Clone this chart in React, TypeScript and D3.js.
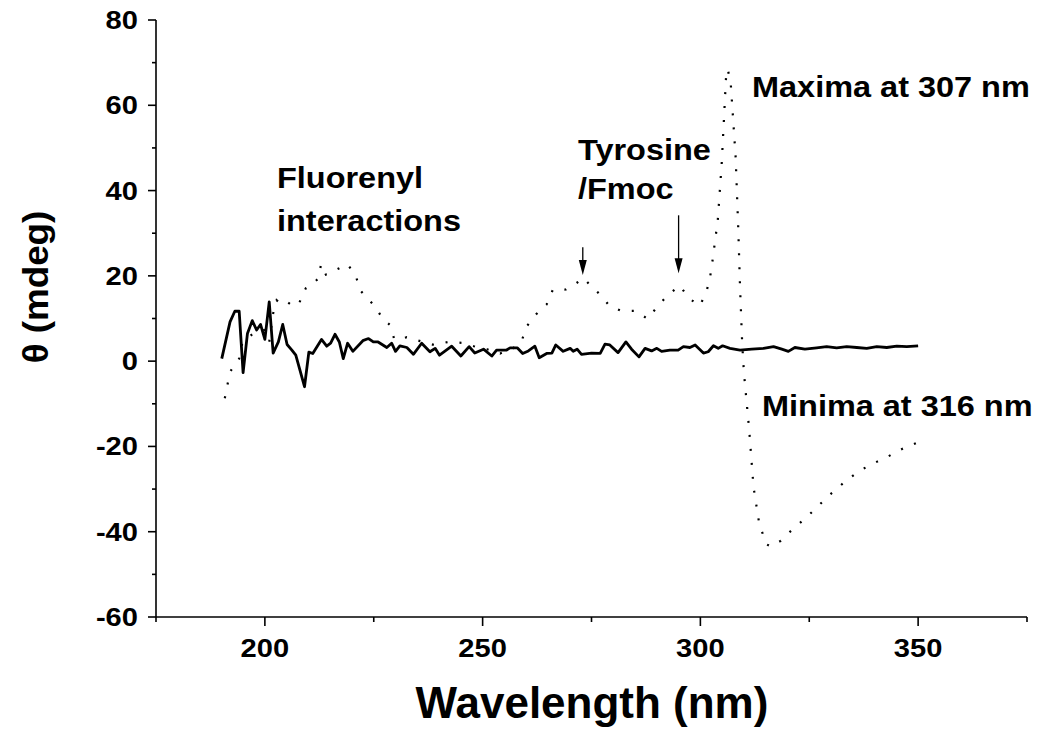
import React from "react";
import * as d3 from "d3";

// Solid trace: wavelength (nm) and theta (mdeg)
const solidWl = [190.1,192.0,193.1,194.1,195.0,196.0,197.1,198.1,199.0,200.0,201.0,201.9,203.1,204.1,205.1,206.2,207.1,209.1,210.1,211.0,213.0,214.2,215.1,216.1,217.1,218.0,219.0,220.2,222.5,223.8,224.9,226.0,228.0,229.1,230.0,231.0,232.6,234.1,236.0,237.9,239.1,240.1,242.9,245.0,246.9,248.2,250.2,252.1,253.2,255.5,256.3,258.0,259.2,260.5,262.0,263.0,264.7,265.9,266.8,268.5,270.1,270.8,271.7,272.7,275.0,277.0,278.1,279.2,281.1,282.9,284.2,285.9,287.3,288.8,290.0,291.1,293.0,294.9,296.1,297.6,298.8,300.7,301.8,303.0,304.1,305.1,306.8,309.1,311.8,314.5,316.8,318.7,320.2,321.7,324.0,326.7,329.0,331.3,333.6,335.9,338.2,340.5,342.8,345.1,347.4,350.0];
const solidTheta = [0.6,9.2,11.7,11.7,-2.7,6.5,9.5,7.3,8.6,5.1,13.9,1.9,4.5,8.6,3.9,2.6,1.4,-6.0,2.1,1.8,5.1,3.5,4.2,6.3,4.5,0.6,4.2,2.3,4.8,5.3,4.5,4.5,3.2,4.2,2.3,3.6,3.2,1.6,4.2,2.2,3.0,1.4,3.5,1.2,3.4,1.9,2.8,1.2,2.6,2.6,3.1,3.1,1.8,2.4,3.5,0.8,1.8,1.9,3.8,2.3,3.0,2.3,2.8,1.6,1.9,1.8,4.0,3.8,2.0,4.5,2.8,1.0,3.0,2.4,3.0,2.3,2.6,2.6,3.4,3.2,3.8,1.9,2.2,3.6,3.0,3.6,3.0,2.6,2.8,3.0,3.4,2.8,2.3,3.2,2.8,3.1,3.4,3.1,3.4,3.2,3.0,3.4,3.2,3.5,3.4,3.6];

// Dotted trace
const dotWl = [190.8,191.4,192.0,194.1,194.8,197.3,199.8,201.0,201.9,202.7,203.7,205.1,206.3,207.8,208.5,209.4,210.6,212.3,212.9,214.0,215.9,219.0,220.9,221.8,223.6,225.4,227.0,228.7,229.7,230.8,232.6,236.0,238.8,242.1,245.2,248.0,251.0,254.0,257.0,259.0,260.0,262.3,264.7,266.1,269.1,271.4,273.2,274.7,277.0,279.1,281.8,285.1,287.9,290.2,292.5,295.3,297.4,299.9,301.4,302.2,302.7,304.0,304.9,305.4,305.9,306.3,307.0,308.1,308.7,309.1,309.6,310.0,311.2,312.2,313.5,315.1,316.2,318.5,321.2,324.3,327.2,330.2,333.4,336.4,339.7,343.2,346.5,349.8];
const dotTheta = [-8.7,-5.6,-2.5,0.6,4.2,6.5,7.3,4.5,11.2,14.3,13.4,13.9,13.0,13.3,15.3,17.1,17.8,19.4,22.7,20.3,21.2,22.7,20.0,16.7,14.7,12.7,10.0,8.5,5.2,5.1,5.6,4.6,3.8,4.5,4.3,3.5,2.8,1.8,3.0,4.8,8.0,11.0,13.3,16.7,16.8,18.2,19.5,17.8,15.6,13.0,11.8,11.8,9.9,12.9,15.5,17.7,14.7,13.0,16.3,19.5,22.9,33.1,46.4,56.5,66.7,68.5,64.7,47.8,31.1,17.6,4.2,-2.7,-16.0,-29.5,-38.0,-42.9,-43.5,-42.1,-39.4,-36.7,-33.8,-30.9,-28.1,-25.8,-24.0,-22.3,-20.5,-19.1];

const xTicks = [200, 250, 300, 350];
const xMinor = [175, 225, 275, 325, 375];
const yTicks = [-60, -40, -20, 0, 20, 40, 60, 80];
const yMinor = [-50, -30, -10, 10, 30, 50, 70];

// Arrows: [wavelength, from theta, to theta]
const arrows = [
  [273, 26.7, 20.2],
  [295, 34.2, 20.6],
];

const W = 1042;
const H = 734;
const FONT = "'Liberation Sans', Arial, Helvetica, sans-serif";
const SX = 1.12;

function T({ x, y, size, anchor = "start", children }: any) {
  return (
    <g transform={`translate(${x},${y}) scale(${SX},1)`}>
      <text x={0} y={0} fontSize={size} textAnchor={anchor}>
        {children}
      </text>
    </g>
  );
}

export default function App() {
  const x = d3.scaleLinear().domain([175, 375]).range([156, 1027]);
  const y = d3.scaleLinear().domain([-60, 80]).range([617, 20]);

  const solid = d3
    .line<number>()
    .x((_, i) => x(solidWl[i]))
    .y((d) => y(d))(solidTheta);
  const dotted = d3
    .line<number>()
    .x((_, i) => x(dotWl[i]))
    .y((d) => y(d))(dotTheta);

  const x0 = x(175);
  const y0 = y(-60);

  return (
    <svg
      width={W}
      height={H}
      style={{ position: "absolute", left: 0, top: 0, background: "#fff" }}
      fontFamily={FONT}
      fontWeight="bold"
    >
      <rect width={W} height={H} fill="#fff" />
      {/* axes */}
      <line x1={x0} x2={x0} y1={y(80)} y2={y0} stroke="#000" strokeWidth={1.6} />
      <line x1={x0} x2={x(375)} y1={y0} y2={y0} stroke="#000" strokeWidth={1.6} />
      {yTicks.map((t) => (
        <g key={"yt" + t}>
          <line x1={x0 - 8} x2={x0} y1={y(t)} y2={y(t)} stroke="#000" strokeWidth={1.6} />
          <T x={x0 - 18} y={y(t) + 9} size={26} anchor="end">
            {t}
          </T>
        </g>
      ))}
      {yMinor.map((t) => (
        <line key={"ym" + t} x1={x0 - 4} x2={x0} y1={y(t)} y2={y(t)} stroke="#000" strokeWidth={1.6} />
      ))}
      {xTicks.map((t) => (
        <g key={"xt" + t}>
          <line x1={x(t)} x2={x(t)} y1={y0} y2={y0 + 9} stroke="#000" strokeWidth={1.6} />
          <T x={x(t)} y={y0 + 40} size={26} anchor="middle">
            {t}
          </T>
        </g>
      ))}
      {xMinor.map((t) => (
        <line key={"xm" + t} x1={x(t)} x2={x(t)} y1={y0} y2={y0 + 5} stroke="#000" strokeWidth={1.6} />
      ))}

      {/* axis titles */}
      <text x={592} y={718} textAnchor="middle" fontSize={44}>
        Wavelength (nm)
      </text>
      <g transform={`translate(48, 287) rotate(-90) scale(1.05,1)`}>
        <text x={0} y={0} textAnchor="middle" fontSize={35}>
          θ (mdeg)
        </text>
      </g>

      {/* data */}
      <path d={dotted ?? ""} fill="none" stroke="#000" strokeWidth={2.2} strokeDasharray="2 12" />
      <path d={solid ?? ""} fill="none" stroke="#000" strokeWidth={2.8} strokeLinejoin="round" />

      {/* arrows */}
      {arrows.map(([wl, a, b], i) => (
        <g key={"ar" + i}>
          <line x1={x(wl)} x2={x(wl)} y1={y(a)} y2={y(b) - 12} stroke="#000" strokeWidth={1.3} />
          <path
            d={`M${x(wl) - 4},${y(b) - 15} L${x(wl) + 4},${y(b) - 15} L${x(wl)},${y(b)} Z`}
            fill="#000"
          />
        </g>
      ))}

      {/* annotations */}
      <T x={277} y={188} size={29}>Fluorenyl</T>
      <T x={277} y={231} size={29}>interactions</T>
      <T x={578} y={160} size={29}>Tyrosine</T>
      <T x={578} y={199} size={29}>/Fmoc</T>
      <T x={752} y={97} size={29}>Maxima at 307 nm</T>
      <T x={762} y={416} size={29}>Minima at 316 nm</T>
    </svg>
  );
}
